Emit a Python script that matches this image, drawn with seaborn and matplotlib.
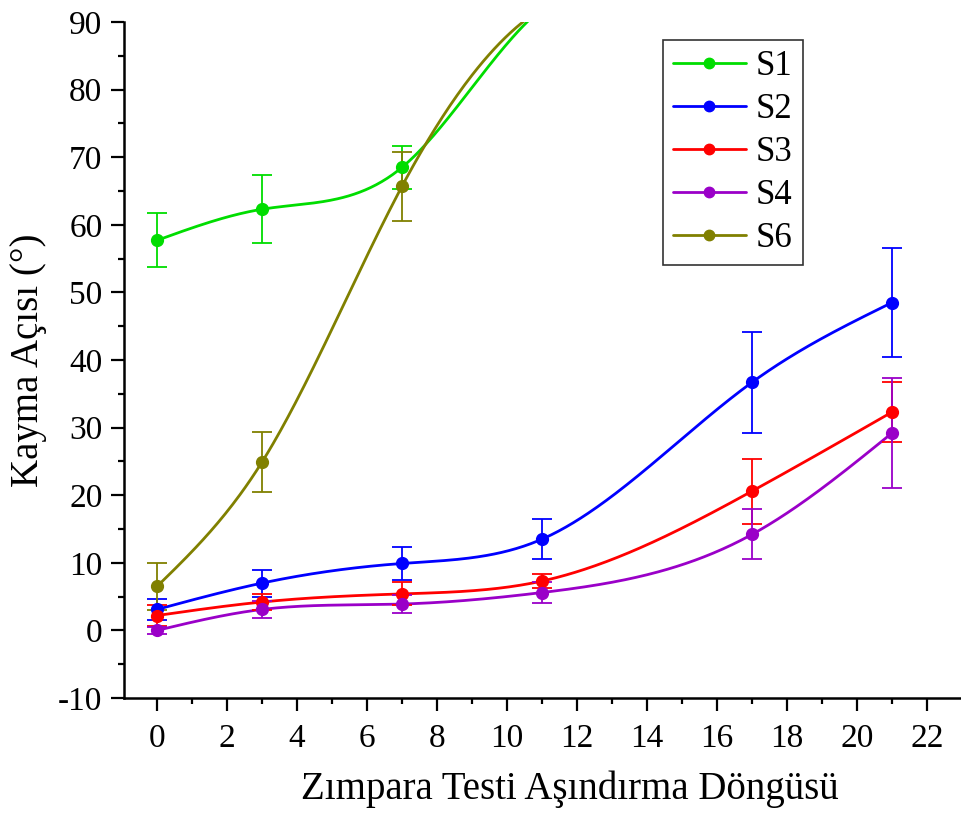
import numpy as np
import pandas as pd
import matplotlib
matplotlib.use("Agg")
import matplotlib.pyplot as plt
import seaborn as sns
from matplotlib.lines import Line2D
from matplotlib.ticker import MultipleLocator

# Abrasion cycles and sliding angle measurements (mean and std)
cycles = [0, 3, 7, 11, 17, 21]
series_names = ["S1", "S2", "S3", "S4", "S6"]
s1_mean = [57.7, 62.3, 68.5, 92.0, 92.0, 92.0]
s1_err = [4.0, 5.0, 3.2, np.nan, np.nan, np.nan]
s2_mean = [3.1, 7.0, 9.9, 13.5, 36.7, 48.5]
s2_err = [1.6, 2.0, 2.4, 3.0, 7.5, 8.1]
s3_mean = [2.2, 4.2, 5.4, 7.3, 20.6, 32.3]
s3_err = [1.5, 1.2, 1.7, 1.1, 4.8, 4.4]
s4_mean = [0.0, 3.1, 3.9, 5.6, 14.2, 29.2]
s4_err = [0.5, 1.2, 1.3, 1.6, 3.7, 8.1]
s6_mean = [6.5, 24.9, 65.7, 92.0, 92.0, 92.0]
s6_err = [3.5, 4.4, 5.1, np.nan, np.nan, np.nan]
colors = ["#00DD00", "#0000FF", "#FF0000", "#9A00C8", "#808000"]

x_ticks = list(range(0, 23, 2))
y_ticks = list(range(-10, 91, 10))

means = [s1_mean, s2_mean, s3_mean, s4_mean, s6_mean]
errs = [s1_err, s2_err, s3_err, s4_err, s6_err]


def natural_spline(x, y, num=400):
    """Natural cubic spline through the measured points."""
    x = np.asarray(x, float)
    y = np.asarray(y, float)
    n = len(x)
    h = np.diff(x)
    A = np.zeros((n, n))
    b = np.zeros(n)
    A[0, 0] = A[-1, -1] = 1.0
    for i in range(1, n - 1):
        A[i, i - 1] = h[i - 1]
        A[i, i] = 2 * (h[i - 1] + h[i])
        A[i, i + 1] = h[i]
        b[i] = 6 * ((y[i + 1] - y[i]) / h[i] - (y[i] - y[i - 1]) / h[i - 1])
    M = np.linalg.solve(A, b)
    xs = np.linspace(x[0], x[-1], num)
    idx = np.clip(np.searchsorted(x, xs) - 1, 0, n - 2)
    x0, x1 = x[idx], x[idx + 1]
    hh = x1 - x0
    a = (x1 - xs) / hh
    bb = (xs - x0) / hh
    ys = a * y[idx] + bb * y[idx + 1] + ((a ** 3 - a) * M[idx] + (bb ** 3 - bb) * M[idx + 1]) * hh ** 2 / 6
    return xs, ys


# Long-form table of smoothed curves for seaborn
frames = []
for name, m in zip(series_names, means):
    m = np.asarray(m, float)
    ok = ~np.isnan(m)
    xs, ys = natural_spline(np.asarray(cycles, float)[ok], m[ok])
    frames.append(pd.DataFrame({"cycle": xs, "angle": ys, "series": name}))
curves = pd.concat(frames, ignore_index=True)

sns.set_style("ticks")
plt.rcParams["font.family"] = ["Liberation Serif", "DejaVu Serif"]
plt.rcParams["axes.unicode_minus"] = False
for key in ["text.color", "axes.labelcolor", "xtick.color", "ytick.color"]:
    plt.rcParams[key] = "black"

fig = plt.figure(figsize=(9.61, 8.14), dpi=100)
ax = fig.add_axes([124 / 961, 116 / 814, (961 - 124) / 961, (698 - 22) / 814])

palette = dict(zip(series_names, colors))
sns.lineplot(data=curves, x="cycle", y="angle", hue="series", hue_order=series_names,
             palette=palette, linewidth=2.0, legend=False, ax=ax, sort=False,
             estimator=None)

for name, m, e, c in zip(series_names, means, errs, colors):
    ax.errorbar(cycles, m, yerr=e, fmt="o", color=c, ecolor=c, markersize=8.5,
                elinewidth=1.3, capsize=7, capthick=1.3, zorder=3)

ax.set_xlim(-0.943, 22.97)
ax.set_ylim(-10, 90)
ax.set_xticks(x_ticks)
ax.set_yticks(y_ticks)
ax.xaxis.set_minor_locator(MultipleLocator(1))
ax.yaxis.set_minor_locator(MultipleLocator(5))

for side in ["top", "right"]:
    ax.spines[side].set_visible(False)
for side in ["left", "bottom"]:
    ax.spines[side].set_linewidth(1.8)
    ax.spines[side].set_color("black")

ax.tick_params(which="major", direction="out", length=9.5, width=1.6,
               labelsize=24, pad=6)
ax.tick_params(axis="x", which="major", pad=9)
ax.tick_params(which="minor", direction="out", length=4.5, width=1.6)

ax.set_xlabel("Zımpara Testi Aşındırma Döngüsü", fontsize=28)
ax.xaxis.set_label_coords((570 - 124) / 837, -0.107)
ax.set_ylabel("Kayma Açısı (°)", fontsize=28, labelpad=8)

handles = [Line2D([], [], color=c, marker="o", markersize=7.5, linewidth=2.0)
           for c in colors]
leg = ax.legend(handles, series_names, loc="upper left",
                bbox_to_anchor=(663 / 961, 1 - 40 / 814), bbox_transform=fig.transFigure,
                fontsize=25, frameon=True, fancybox=False, framealpha=1,
                edgecolor="#333333", handlelength=2.1, handletextpad=0.3,
                labelspacing=0.29, borderpad=0.28, borderaxespad=0)
leg.get_frame().set_linewidth(1.2)

fig.savefig("out.png", dpi=100)
